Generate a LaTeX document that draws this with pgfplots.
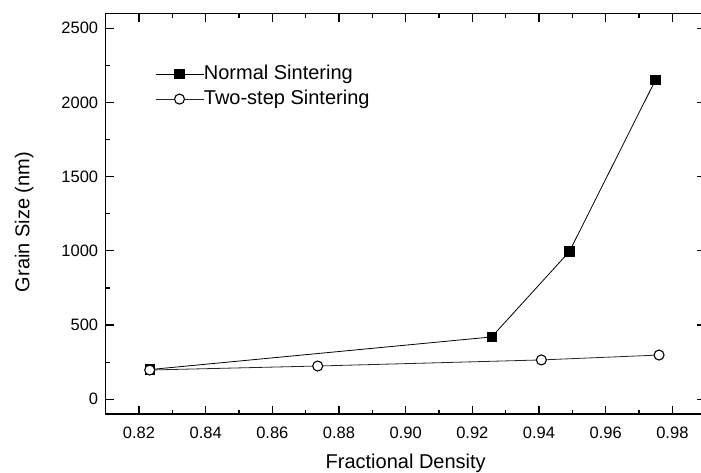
\documentclass[border=0pt]{standalone}
\usepackage{fontspec}
\setmainfont{Liberation Sans}
\usepackage{pgfplots}
\pgfplotsset{compat=1.18}

\begin{document}
\begin{tikzpicture}
\begin{axis}[
  name=ax,
  scale only axis, width=600pt, height=400.7pt,
  xmin=0.81, xmax=0.99, ymin=-100, ymax=2600,
  xtick={0.82,0.84,0.86,0.88,0.90,0.92,0.94,0.96,0.98},
  ytick={0,500,1000,1500,2000,2500},
  minor x tick num=1, minor y tick num=1,
  xticklabel style={/pgf/number format/fixed, /pgf/number format/fixed zerofill, /pgf/number format/precision=2},
  yticklabel style={/pgf/number format/1000 sep={}},
  scaled ticks=false,
  /pgf/number format/assume math mode=true,
  axis line style={line width=1.3pt},
  every tick/.style={black, line width=1.2pt},
  major tick length=8.5pt, minor tick length=4.5pt,
  tick label style={font=\fontsize{16.5}{19}\selectfont},
  x tick label style={yshift=-9pt},
  y tick label style={xshift=-4pt},
  xlabel={Fractional Density}, ylabel={Grain Size (nm)},
  every axis x label/.style={at={(axis description cs:0.5,-0.1353)}, anchor=base, font=\fontsize{20}{24}\selectfont},
  every axis y label/.style={at={(axis description cs:-0.136,0.479)}, rotate=90, anchor=center, font=\fontsize{20}{24}\selectfont},
  legend image code/.code={\draw[mark repeat=2,mark phase=2,#1] plot coordinates {(0pt,0pt) (24pt,0pt) (48pt,0pt)};},
  legend style={draw=none, fill=none, at={(0.082,0.8715)}, anchor=north west, inner sep=0pt,
    font=\fontsize{20}{24}\selectfont, row sep=7pt,
    nodes={inner sep=0pt, text height=14pt, text depth=4pt}},
  legend cell align=left,
  /tikz/every even column/.append style={column sep=8pt},
]
\addplot[black, line width=0.8pt, mark=square*, mark size=4.7pt, mark options={solid, fill=black}]
coordinates {(0.8232,200)(0.9258,420)(0.9491,995)(0.9749,2150)};
\addlegendentry{Normal Sintering}
\addplot[black!85, line width=0.8pt, mark=*, mark size=5pt, mark options={solid, draw=black, fill=white, line width=1.1pt}]
coordinates {(0.8232,197)(0.8736,224)(0.9407,265)(0.976,298)};
\addlegendentry{Two-step Sintering}
\end{axis}
\pgfresetboundingbox
\path ([shift={(-105.7pt,-57.9pt)}]ax.south west) rectangle ([shift={(595.3pt,414.1pt)}]ax.south west);
\end{tikzpicture}
\end{document}
